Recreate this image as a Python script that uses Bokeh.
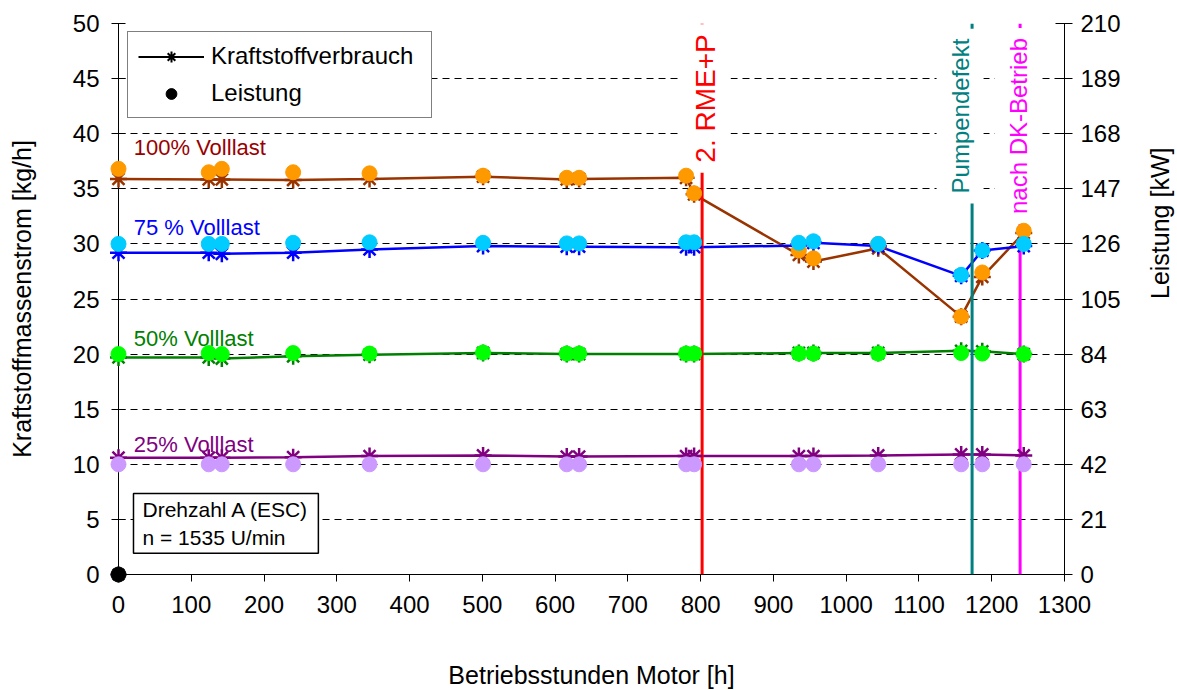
import math
from bokeh.plotting import figure
from bokeh.models import (Range1d, LinearAxis, FixedTicker, Span, Label, Legend, LegendItem)
from bokeh.embed import file_html
from bokeh.resources import INLINE

# ---------------- data ----------------
hours = [0, 124, 142, 240, 345, 501, 616, 633, 780, 791, 935, 955, 1044, 1158, 1187, 1244]

fuel_100 = [35.9, 35.85, 35.85, 35.8, 35.9, 36.1, 35.85, 35.9, 36.0, 34.5, 29.0, 28.4, 29.6, 23.4, 27.0, 31.0]
power_100 = [154.6, 153.3, 154.6, 153.3, 152.9, 152.0, 151.2, 151.2, 152.0, 145.3, 123.5, 120.5, 126.0, 98.3, 115.1, 131.0]

fuel_75 = [29.2, 29.2, 29.1, 29.2, 29.5, 29.8, 29.75, 29.75, 29.7, 29.7, 29.85, 30.1, 29.8, 27.1, 29.4, 29.8]
power_75 = [126.0, 126.0, 126.0, 126.4, 126.6, 126.4, 126.2, 126.2, 126.6, 126.6, 126.4, 127.0, 126.0, 114.2, 123.5, 126.0]

fuel_50 = [19.7, 19.7, 19.6, 19.8, 19.95, 20.1, 20.0, 20.0, 20.0, 20.0, 20.1, 20.1, 20.1, 20.3, 20.25, 20.0]
power_50 = [84.0, 84.4, 84.0, 84.4, 84.2, 84.6, 84.2, 84.2, 84.2, 84.2, 84.2, 84.2, 84.2, 84.4, 84.2, 84.0]

fuel_25 = [10.6, 10.6, 10.6, 10.65, 10.75, 10.8, 10.7, 10.7, 10.75, 10.75, 10.75, 10.75, 10.8, 10.9, 10.9, 10.8]
power_25 = [42.0, 42.0, 42.0, 42.0, 42.0, 42.0, 42.0, 42.0, 42.0, 42.0, 42.0, 42.0, 42.0, 42.0, 42.0, 42.0]

legend_x = [0]
legend_fuel = [0]
legend_power = [0]

load_labels = ["100% Volllast", "75 % Volllast", "50% Volllast", "25% Volllast"]
load_label_y = [38.75, 31.5, 21.4, 11.8]

event_hours = [802, 1173, 1239]
event_texts = ["2. RME+P", "Pumpendefekt", "nach DK-Betrieb"]

x_ticks = list(range(0, 1301, 100))
y_ticks = list(range(0, 51, 5))
kw_ticks = [0, 21, 42, 63, 84, 105, 126, 147, 168, 189, 210]

# ---------------- styles ----------------
FONT = "Liberation Sans"
fuel_colors = ["#993300", "#0000FF", "#008000", "#800080"]
power_colors = ["#FF9900", "#00CCFF", "#00FF00", "#CC99FF"]
label_colors = ["#990000", "#0000FF", "#008000", "#800080"]
event_colors = ["#FF0000", "#008080", "#FF00FF"]
event_font = ["28px", "24px", "24px"]
event_label_y = [43.2, 41.6, 40.7]
event_dx = [3, -12, -2]

p = figure(frame_width=946, frame_height=551,
           min_border_left=118, min_border_right=113, min_border_top=23, min_border_bottom=116,
           x_range=Range1d(0, 1300), y_range=Range1d(0, 50),
           output_backend="svg", toolbar_location=None,
           background_fill_color="white", border_fill_color="white")
p.outline_line_color = None
p.extra_y_ranges = {"kw": Range1d(0, 210)}

# grid
p.xgrid.visible = False
p.ygrid.ticker = FixedTicker(ticks=y_ticks)
p.ygrid.grid_line_color = "black"
p.ygrid.grid_line_dash = "7 5"
p.ygrid.grid_line_width = 1

# axes
def style_axis(ax):
    ax.axis_line_color = "black"
    ax.major_tick_line_color = "black"
    ax.minor_tick_line_color = None
    ax.major_label_text_font = FONT
    ax.major_label_text_font_size = "24px"
    ax.major_label_text_color = "black"
    ax.axis_label_text_font = FONT
    ax.axis_label_text_font_size = "25px"
    ax.axis_label_text_font_style = "normal"
    ax.axis_label_text_color = "black"

xa = p.xaxis[0]
style_axis(xa)
xa.ticker = FixedTicker(ticks=x_ticks)
xa.major_tick_in = 0
xa.major_tick_out = 7
xa.major_label_standoff = 14
xa.axis_label = "Betriebsstunden Motor [h]"
xa.axis_label_standoff = 45

ya = p.yaxis[0]
style_axis(ya)
ya.ticker = FixedTicker(ticks=y_ticks)
ya.major_tick_in = 7
ya.major_tick_out = 7
ya.major_label_standoff = 12
ya.axis_label = "Kraftstoffmassenstrom [kg/h]"
ya.axis_label_standoff = 34

ra = LinearAxis(y_range_name="kw")
style_axis(ra)
ra.ticker = FixedTicker(ticks=kw_ticks)
ra.major_tick_in = 9
ra.major_tick_out = 8
ra.major_label_standoff = 8
ra.axis_label = "Leistung [kW]"
ra.axis_label_standoff = 36
ra.axis_label_orientation = math.pi / 2
p.add_layout(ra, "right")

# event lines
for ex, c in zip(event_hours, event_colors):
    p.add_layout(Span(location=ex, dimension="height", line_color=c, line_width=3))

# fuel series (lines + asterisks)
fuel_series = [fuel_100, fuel_75, fuel_50, fuel_25]
power_series = [power_100, power_75, power_50, power_25]
for f, c in zip(fuel_series, fuel_colors):
    p.line(hours, f, line_color=c, line_width=2.5)
    p.scatter(hours, f, marker="asterisk", size=17, line_color=c, line_width=2.5, level="overlay")

# power series (dots)
for pw, c in zip(power_series, power_colors):
    p.scatter(hours, pw, marker="circle", size=15, fill_color=c, line_color=c,
              y_range_name="kw", level="overlay")

# legend reference series (black at origin)
r_line = p.line(legend_x, legend_fuel, line_color="black", line_width=2)
r_ast = p.scatter(legend_x, legend_fuel, marker="asterisk", size=16, line_color="black",
                  line_width=2, level="overlay")
r_dot = p.scatter(legend_x, legend_power, marker="circle", size=15, fill_color="black",
                  line_color="black", y_range_name="kw", level="overlay")

legend = Legend(items=[LegendItem(label="Kraftstoffverbrauch", renderers=[r_line, r_ast]),
                       LegendItem(label="Leistung", renderers=[r_dot])],
                location=(9, 456), orientation="vertical",
                border_line_color="black", border_line_width=1,
                background_fill_color="white", background_fill_alpha=1,
                label_text_font=FONT, label_text_font_size="24px", label_text_color="black",
                glyph_width=66, glyph_height=27, label_height=27, label_width=210,
                label_standoff=7, spacing=9, padding=10, margin=0)
p.add_layout(legend)

# load labels
for t, yy, c in zip(load_labels, load_label_y, label_colors):
    p.add_layout(Label(x=21, y=yy, text=t, text_color=c, text_font=FONT, text_font_size="22px",
                       text_align="left", text_baseline="middle"))

# event labels (white background, rotated)
for ex, t, c, fs, ly, dx in zip(event_hours, event_texts, event_colors, event_font, event_label_y, event_dx):
    p.add_layout(Label(x=ex, y=ly, x_offset=dx, text=t, angle=math.pi / 2, text_color=c,
                       text_font=FONT, text_font_size=fs, text_align="center", text_baseline="middle",
                       background_fill_color="white", padding=10))

# rpm info box
p.add_layout(Label(x=20.6, y=7.35, text="Drehzahl A (ESC)\nn = 1535 U/min", text_color="black",
                   text_font=FONT, text_font_size="21px", text_align="left", text_baseline="top",
                   text_line_height=1.25, border_line_color="black", border_line_width=1.5,
                   background_fill_color="white",
                   padding=dict(left=9, right=9, top=4, bottom=4)))

open("out.html", "w").write(file_html(p, INLINE))
